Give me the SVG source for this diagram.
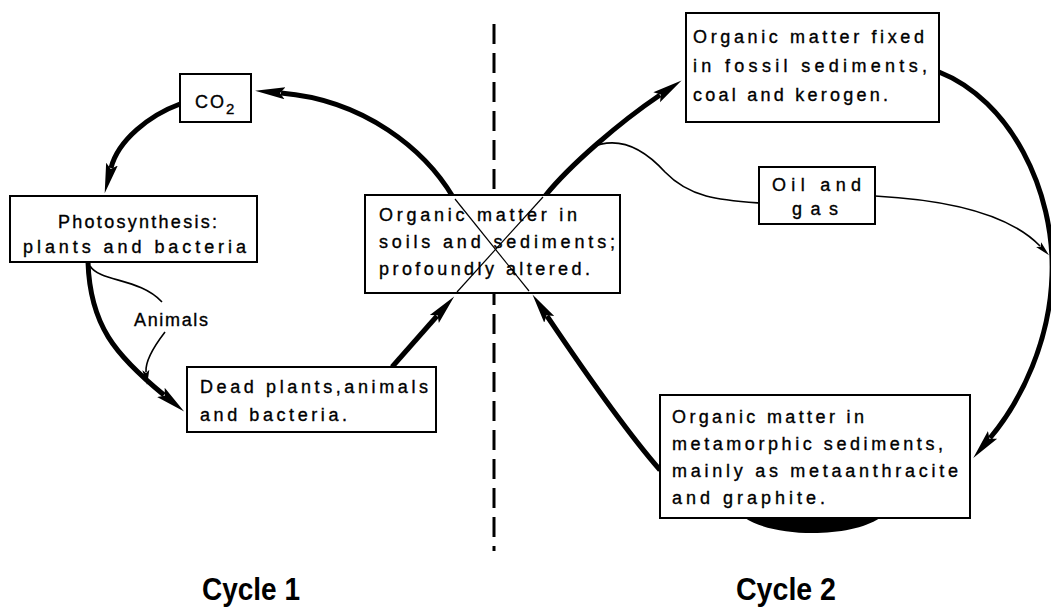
<svg xmlns="http://www.w3.org/2000/svg" width="1051" height="611" viewBox="0 0 1051 611">
<defs>
<style>
.box{fill:#fff;stroke:#000;stroke-width:2}
.t{font-family:"Liberation Sans",Arial,sans-serif;font-size:18px;fill:#000;stroke:#000;stroke-width:0.35}
.thick{fill:none;stroke:#000;stroke-width:5}
.thin{fill:none;stroke:#000;stroke-width:1.6}
.x{fill:none;stroke:#000;stroke-width:1.2}
.cyc{font-family:"Liberation Sans",Arial,sans-serif;font-weight:bold;font-size:32px;fill:#000}
</style>
<marker id="ah" markerUnits="userSpaceOnUse" viewBox="0 -7 32 14" markerWidth="32" markerHeight="14" refX="4" refY="0" orient="auto"><path d="M0,-6 L30,0 L0,6 L5,0 Z" fill="#000"/></marker>
<marker id="sm" markerUnits="userSpaceOnUse" viewBox="0 -4 16 8" markerWidth="16" markerHeight="8" refX="2" refY="0" orient="auto"><path d="M0,-3.5 L15,0 L0,3.5 L3,0 Z" fill="#000"/></marker>
</defs>
<rect width="1051" height="611" fill="#fff"/>
<g id="divider"><line x1="494" y1="24" x2="494" y2="551" stroke="#000" stroke-width="3" stroke-dasharray="20 9"/></g>
<g id="connectors">
<path class="thick" d="M453,197 C425,150 365,100 281,93" marker-end="url(#ah)"/>
<path class="thick" d="M180,104 C150,115 118,140 111,168" marker-end="url(#ah)"/>
<path class="thick" d="M88,262 C90,325 115,355 164,395" marker-end="url(#ah)"/>
<path class="thin" d="M90,266 C100,282 140,278 162,302"/>
<path class="thin" d="M165,332 C155,345 145,360 146,372" marker-end="url(#sm)"/>
<path class="thick" d="M392,367 L437,316" marker-end="url(#ah)"/>
<path class="thick" d="M660,470 C625,430 580,365 547,316" stroke-width="6" marker-end="url(#ah)"/>
<path class="thick" d="M545,196 C570,165 620,122 660,95" stroke-width="6" marker-end="url(#ah)"/>
<path class="thick" d="M939,72 C1010,100 1055,190 1052,275" stroke-width="8"/>
<path class="thick" d="M1052,275 C1050,340 1022,400 990,438" stroke-width="6" marker-end="url(#ah)"/>
<path class="thin" d="M590,148 C620,134 645,150 665,172 C690,198 720,200 759,203"/>
<path class="thin" d="M875,196 C950,200 1010,215 1040,246" marker-end="url(#sm)"/>
<path d="M745,518 C775,538 850,538 880,518 Z" fill="#000"/>
</g>
<g id="co2"><rect class="box" x="180" y="74" width="71" height="48"/><text class="t" x="195" y="108" letter-spacing="2">CO<tspan font-size="15" dy="6">2</tspan></text></g>
<g id="photosynthesis"><rect class="box" x="10" y="196" width="247" height="66"/>
<text class="t" x="58" y="228" textLength="159" lengthAdjust="spacing">Photosynthesis:</text>
<text class="t" x="23" y="253" textLength="223" lengthAdjust="spacing">plants and bacteria</text></g>
<g id="animals"><text class="t" x="134" y="326" textLength="74" lengthAdjust="spacing">Animals</text></g>
<g id="dead"><rect class="box" x="187" y="367" width="249" height="65"/>
<text class="t" x="200" y="393" textLength="228" lengthAdjust="spacing">Dead plants,animals</text>
<text class="t" x="200" y="421" textLength="147" lengthAdjust="spacing">and bacteria.</text></g>
<g id="soils"><rect class="box" x="365" y="195" width="255" height="98"/>
<text class="t" x="379" y="221" textLength="198" lengthAdjust="spacing">Organic matter in</text>
<text class="t" x="379" y="248" textLength="236" lengthAdjust="spacing">soils and sediments;</text>
<text class="t" x="379" y="275" textLength="211" lengthAdjust="spacing">profoundly altered.</text></g>
<g id="fossil"><rect class="box" x="686" y="13" width="253" height="109"/>
<text class="t" x="693" y="43" textLength="231" lengthAdjust="spacing">Organic matter fixed</text>
<text class="t" x="693" y="72" textLength="234" lengthAdjust="spacing">in fossil sediments,</text>
<text class="t" x="693" y="101" textLength="195" lengthAdjust="spacing">coal and kerogen.</text></g>
<g id="oilgas"><rect class="box" x="759" y="167" width="116" height="57"/>
<text class="t" x="772" y="191" textLength="89" lengthAdjust="spacing">Oil and</text>
<text class="t" x="792" y="215" textLength="46" lengthAdjust="spacing">gas</text></g>
<g id="metamorphic"><rect class="box" x="660" y="395" width="310" height="123"/>
<text class="t" x="672" y="423" textLength="192" lengthAdjust="spacing">Organic matter in</text>
<text class="t" x="672" y="450" textLength="271" lengthAdjust="spacing">metamorphic sediments,</text>
<text class="t" x="672" y="477" textLength="286" lengthAdjust="spacing">mainly as metaanthracite</text>
<text class="t" x="672" y="504" textLength="153" lengthAdjust="spacing">and graphite.</text></g>
<g id="cross"><path class="x" d="M455,199 L529,291"/><path class="x" d="M543,197 L457,292"/></g>
<g id="labels"><text class="cyc" x="202" y="600" textLength="98" lengthAdjust="spacingAndGlyphs">Cycle 1</text>
<text class="cyc" x="736" y="600" textLength="100" lengthAdjust="spacingAndGlyphs">Cycle 2</text></g>
</svg>
